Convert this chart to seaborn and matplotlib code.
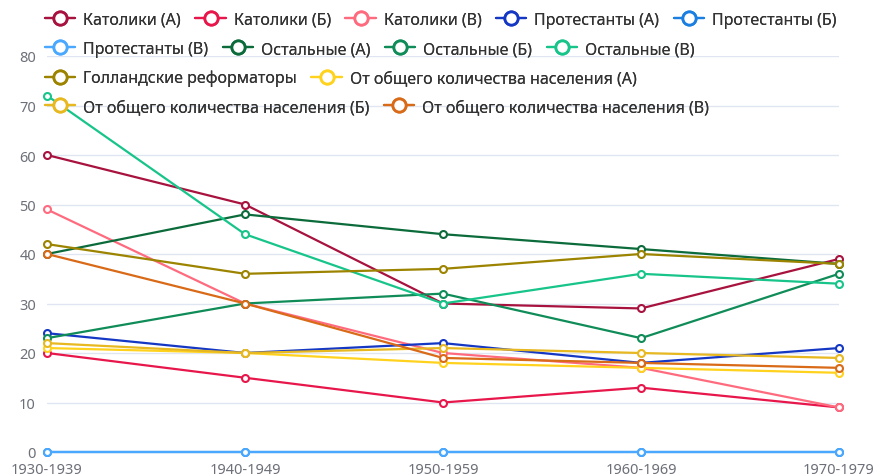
import pandas as pd
import matplotlib.pyplot as plt
from matplotlib.lines import Line2D
import seaborn as sns

# Data
periods = ['1930-1939', '1940-1949', '1950-1959', '1960-1969', '1970-1979']

series_names = [
    'Католики (А)', 'Католики (Б)', 'Католики (В)',
    'Протестанты (А)', 'Протестанты (Б)', 'Протестанты (В)',
    'Остальные (А)', 'Остальные (Б)', 'Остальные (В)',
    'Голландские реформаторы',
    'От общего количества населения (А)',
    'От общего количества населения (Б)',
    'От общего количества населения (В)',
]

katoliki_a = [60, 50, 30, 29, 39]
katoliki_b = [20, 15, 10, 13, 9]
katoliki_v = [49, 30, 20, 17, 9]
protestanty_a = [24, 20, 22, 18, 21]
protestanty_b = [0, 0, 0, 0, 0]
protestanty_v = [0, 0, 0, 0, 0]
ostalnye_a = [40, 48, 44, 41, 38]
ostalnye_b = [23, 30, 32, 23, 36]
ostalnye_v = [72, 44, 30, 36, 34]
gollandskie = [42, 36, 37, 40, 38]
obshchee_a = [21, 20, 18, 17, 16]
obshchee_b = [22, 20, 21, 20, 19]
obshchee_v = [40, 30, 19, 18, 17]

values = [katoliki_a, katoliki_b, katoliki_v,
          protestanty_a, protestanty_b, protestanty_v,
          ostalnye_a, ostalnye_b, ostalnye_v,
          gollandskie, obshchee_a, obshchee_b, obshchee_v]

colors = ['#a8123e', '#e8174b', '#ff6b7e',
          '#1538c4', '#1a7fe0', '#4aa8ff',
          '#0c6b3b', '#0f8c58', '#17c489',
          '#9c8400', '#ffd21e', '#e8b820', '#d86a18']

rows = []
for name, vals in zip(series_names, values):
    for p, v in zip(periods, vals):
        rows.append({'period': p, 'value': v, 'series': name})
df = pd.DataFrame(rows)

sns.set_style('white')
plt.rcParams['font.family'] = ['Noto Sans', 'DejaVu Sans']

fig = plt.figure(figsize=(8.8, 4.77), dpi=100)
ax = fig.add_axes([47 / 880, 24 / 477, 792 / 880, 396 / 477])

sns.lineplot(data=df, x='period', y='value', hue='series',
             hue_order=series_names, palette=colors, ax=ax,
             marker='o', markersize=5, markerfacecolor='white',
             markeredgewidth=1.5, linewidth=1.6, legend=False,
             clip_on=False, zorder=3)
# seaborn paints marker edges white; give them the line colour
for line in ax.lines:
    line.set_markeredgecolor(line.get_color())

ax.set_xlim(0, 4)
ax.set_ylim(0, 80)
ax.set_yticks(range(0, 81, 10))
ax.grid(axis='y', color='#e0e6f1', linewidth=1)
ax.grid(axis='x', visible=False)
for s in ax.spines.values():
    s.set_visible(False)
ax.tick_params(axis='both', colors='#6e7079', labelsize=10.5, length=0)
ax.tick_params(axis='y', pad=8)
ax.tick_params(axis='x', pad=7)
ax.set_xlabel('')
ax.set_ylabel('')

# Legend in flowing rows like the original
handles = [Line2D([0], [0], color=c, lw=1.6, marker='o', markersize=9.5,
                  markerfacecolor='white', markeredgewidth=2)
           for c in colors]
row_items = [[0, 1, 2, 3, 4], [5, 6, 7, 8], [9, 10], [11, 12]]
row_y = [0.956, 0.895, 0.834, 0.774]
for idx, y in zip(row_items, row_y):
    leg = fig.legend([handles[i] for i in idx], [series_names[i] for i in idx],
                     loc='center left', bbox_to_anchor=(45 / 880, y),
                     ncol=len(idx), frameon=False, fontsize=11.5,
                     handlelength=1.9, handletextpad=0.5,
                     columnspacing=0.9, borderpad=0, borderaxespad=0)
    for t in leg.get_texts():
        t.set_color('#333333')
    fig.add_artist(leg)

fig.savefig('out.png', dpi=100)
